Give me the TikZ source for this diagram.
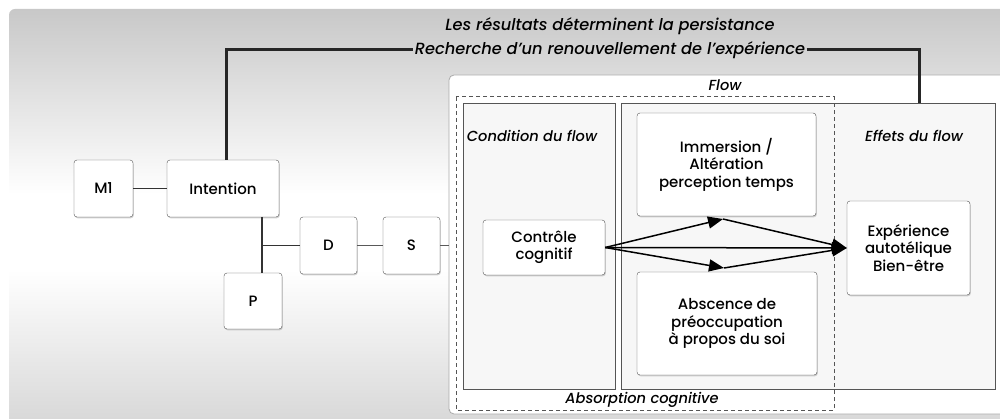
\documentclass[tikz,border=0pt]{standalone}
\usepackage{fontspec}
\setmainfont{Poppins}[UprightFont={* Medium}, ItalicFont={* Medium Italic}]
\usepackage{xcolor}
\definecolor{bgtop}{RGB}{200,200,200}
\definecolor{bgbot}{RGB}{214,214,214}
\definecolor{zone}{RGB}{247,247,247}
\definecolor{edge}{RGB}{85,85,85}
\definecolor{panelrim}{RGB}{170,170,170}
\usepackage{tikz}
\usetikzlibrary{positioning, arrows.meta, shadows}
\pgfdeclareverticalshading{bgfade}{100bp}{color(0bp)=(bgbot); color(25bp)=(bgbot); color(44bp)=(white); color(53bp)=(white); color(75bp)=(bgtop); color(100bp)=(bgtop)}
\tikzstyle{blk} = [
    draw=edge, fill=white, rounded corners=3pt, align=center, inner sep=0pt,
    font=\fontsize{15}{17.5}\selectfont,
    drop shadow={shadow xshift=0.8pt, shadow yshift=-1.3pt, opacity=0.35},
]
\tikzstyle{zonelbl} = [font=\fontsize{14.6}{17}\selectfont\itshape]
\tikzstyle{toplbl} = [font=\fontsize{16.2}{18}\selectfont\itshape, inner sep=1.5pt]
\tikzstyle{link} = [draw=black!80, line width=1.1pt]
\tikzstyle{loopback} = [draw=black!85, line width=3pt]
\tikzstyle{flowarrow} = [-{Triangle[length=15pt,width=12pt]}, line width=1.5pt]

\begin{document}
\begin{tikzpicture}[x=1pt, y=-1pt]
    \useasboundingbox (0,0) rectangle (1000,419);
    % grey backdrop and the white flow panel
    \shade[shading=bgfade, rounded corners=6pt] (9,9) rectangle (1012,430);
    \draw[panelrim, fill=white, line width=0.8pt, rounded corners=5pt] (449,75) rectangle (1012,414);

    \draw[edge, fill=zone, line width=0.8pt] (463,103) rectangle (615,389);
    \draw[edge, fill=zone, line width=0.8pt] (621,103) rectangle (995,389);
    \draw[edge, line width=1pt, dash pattern=on 4pt off 3pt] (456,97) rectangle (834,410);

    \node[zonelbl] (flowlbl) at (725,85) {Flow};
    \node[zonelbl] (condlbl) at (532,136) {Condition du flow};
    \node[zonelbl] (effetlbl) at (914,136) {Effets du flow};
    \node[zonelbl] (absorb) at (642,400) {Absorption cognitive};

    % left chain
    \node[blk, minimum width=59pt, minimum height=57pt] (m1) at (103.5,188.5) {M1};
    \node[blk, minimum width=112pt, minimum height=57pt] (intent) at (223,188.5) {Intention};
    \node[blk, minimum width=57pt, minimum height=57pt] (dd) at (328.5,245.5) {D};
    \node[blk, minimum width=57pt, minimum height=57pt] (ss) at (411.5,245.5) {S};
    \node[blk, minimum width=58pt, minimum height=56pt] (pp) at (253,301) {P};

    % flow boxes
    \node[blk, minimum width=122pt, minimum height=55pt] (ctrl) at (544,247.5) {Contrôle\\cognitif};
    \node[blk, minimum width=179pt, minimum height=103pt] (immer) at (726.5,164.5) {Immersion /\\Altération\\perception temps};
    \node[blk, minimum width=180pt, minimum height=103pt] (absc) at (727,323.5) {Abscence de\\préoccupation\\à propos du soi};
    \node[blk, minimum width=123pt, minimum height=94pt] (exper) at (908.5,248) {Expérience\\autotélique\\Bien-être};

    % feedback loop
    \node[toplbl] (persist) at (610,26) {Les résultats déterminent la persistance};
    \node[toplbl] (renew) at (610,50) {Recherche d’un renouvellement de l’expérience};
    \coordinate (effetstop) at (919,103);
    \draw[loopback] (intent.north) ++(3,0) |- (renew.west);
    \draw[loopback] (renew.east) -| (effetstop);

    \coordinate (split) at (262,217);
    \coordinate (panelin) at (449,245.5);
    \draw[link] (m1) -- (intent);
    \draw[link, line width=2pt] (split) -- (split |- pp.north);
    \draw[link] (split |- dd.west) -- (dd.west);
    \draw[link, draw=black!65] (dd) -- (ss);
    \draw[link, draw=black!65] (ss.east) -- (panelin);

    \coordinate (up) at (723,219);
    \coordinate (dn) at (724,268);
    \draw[flowarrow] (ctrl.east) -- (up);
    \draw[flowarrow] (ctrl.east) -- (dn);
    \draw[flowarrow] (ctrl.east) -- (exper.west);
    \draw[flowarrow] (up) -- (exper.west);
    \draw[flowarrow] (dn) -- (exper.west);
\end{tikzpicture}
\end{document}
